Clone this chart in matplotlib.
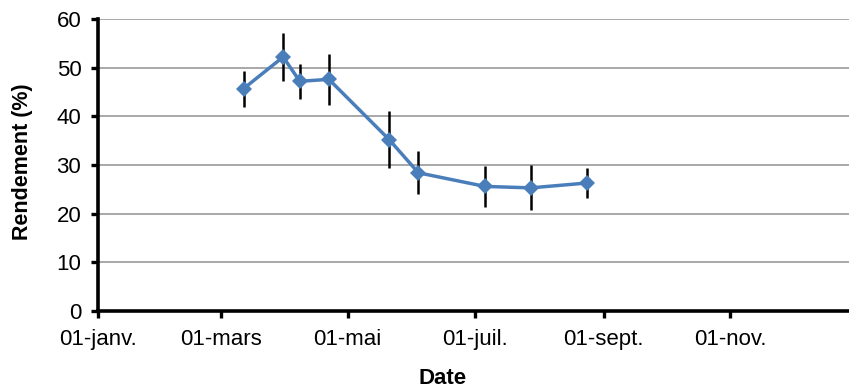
import datetime as dt

import matplotlib
matplotlib.use("Agg")
import matplotlib.pyplot as plt
import matplotlib.dates as mdates

# sampling dates and yield (%) with error-bar half widths
dates = ["2011-03-12", "2011-03-31", "2011-04-08", "2011-04-22", "2011-05-21",
         "2011-06-04", "2011-07-06", "2011-07-28", "2011-08-24"]
rendement = [45.7, 52.2, 47.2, 47.6, 35.2, 28.4, 25.6, 25.3, 26.3]
erreur = [3.7, 4.9, 3.6, 5.3, 5.8, 4.4, 4.2, 4.6, 3.0]

tick_dates = ["2011-01-01", "2011-03-01", "2011-05-01", "2011-07-01", "2011-09-01", "2011-11-01"]
tick_labels = ["01-janv.", "01-mars", "01-mai", "01-juil.", "01-sept.", "01-nov."]
y_ticks = [0, 10, 20, 30, 40, 50, 60]

plt.rcParams["font.family"] = ["Liberation Sans", "DejaVu Sans"]

x = [dt.datetime.strptime(d, "%Y-%m-%d") for d in dates]
xt = [mdates.date2num(dt.datetime.strptime(d, "%Y-%m-%d")) for d in tick_dates]

fig = plt.figure(figsize=(8.49, 3.89), dpi=100)
ax = fig.add_axes([98 / 849, 1 - 311 / 389, 1 - 98 / 849, (311 - 19) / 389])

ax.errorbar(x, rendement, yerr=erreur, fmt="none", ecolor="black", elinewidth=1.8,
            capsize=0, zorder=3)
ax.plot(x, rendement, color="#4A7EBB", linewidth=2.5, marker="D", markersize=8.5,
        markeredgewidth=0, zorder=4)

ax.set_xlim(mdates.date2num(dt.datetime(2011, 1, 1)), mdates.date2num(dt.datetime(2011, 12, 28)))
ax.set_ylim(0, 60)
ax.set_xticks(xt)
ax.set_xticklabels(tick_labels)
ax.set_yticks(y_ticks)

ax.yaxis.grid(True, color="#999999", linewidth=1.2)
ax.set_axisbelow(True)
for s in ("top", "right"):
    ax.spines[s].set_visible(False)
for s in ("left", "bottom"):
    ax.spines[s].set_linewidth(2.6)
    ax.spines[s].set_color("black")

ax.tick_params(axis="both", direction="out", length=5, width=2.4, labelsize=16, colors="black")
ax.tick_params(axis="y", pad=7)
ax.tick_params(axis="x", pad=8)

ax.set_ylabel("Rendement (%)", fontsize=15.5, fontweight="bold")
ax.yaxis.set_label_coords((33 - 98) / 751, 0.51)
ax.set_xlabel("Date", fontsize=16, fontweight="bold")
ax.xaxis.set_label_coords((443 - 98) / 751, (311 - 368) / 292)

fig.savefig("out.png", dpi=100)
plt.close(fig)
